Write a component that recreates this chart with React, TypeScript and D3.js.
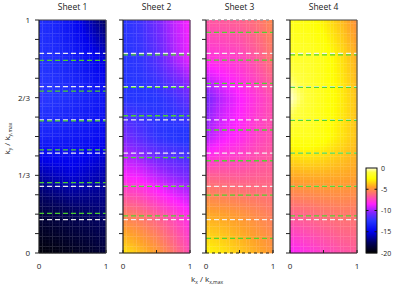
import React from "react";
import * as d3 from "d3";

// ---------- data ----------
const sheetNames = ["Sheet 1", "Sheet 2", "Sheet 3", "Sheet 4"];
const xNodes = [0, 0.25, 0.5, 0.75, 1];
const yNodes = [0, 1 / 6, 1 / 3, 1 / 2, 2 / 3, 5 / 6, 1];

// rows: bottom (ky=0) to top (ky=1); columns: kx = 0 .. 1
const sheet1 = [
  [-19.8, -19.6, -19.3, -19.0, -18.5],
  [-18.5, -18.2, -17.8, -17.5, -17.2],
  [-16.3, -15.8, -15.4, -15.8, -16.2],
  [-13.3, -13.6, -13.9, -14.2, -14.7],
  [-12.2, -12.6, -13.0, -13.5, -14.1],
  [-12.6, -13.0, -13.6, -14.5, -15.5],
  [-12.8, -13.4, -14.4, -16.0, -17.6],
];
const sheet2 = [
  [-3.0, -3.8, -4.6, -5.8, -7.2],
  [-5.5, -5.9, -6.6, -7.4, -8.3],
  [-8.5, -8.8, -9.6, -10.3, -10.8],
  [-10.6, -11.5, -12.3, -12.6, -12.8],
  [-12.5, -12.6, -12.5, -12.0, -11.0],
  [-12.5, -12.3, -11.5, -10.0, -8.8],
  [-12.5, -12.0, -10.8, -9.5, -8.5],
];
const sheet3 = [
  [-2.6, -3.0, -3.6, -4.2, -4.8],
  [-4.3, -4.5, -4.8, -5.2, -5.6],
  [-6.5, -6.6, -6.7, -6.6, -6.5],
  [-9.8, -8.8, -8.3, -7.5, -7.0],
  [-10.8, -9.5, -8.6, -7.8, -7.0],
  [-8.0, -7.8, -7.5, -6.8, -5.8],
  [-6.8, -6.7, -6.5, -6.0, -5.2],
];
const sheet4 = [
  [-8.5, -8.0, -7.5, -7.0, -6.7],
  [-6.5, -6.3, -6.0, -5.8, -5.8],
  [-4.3, -4.2, -4.2, -4.3, -4.5],
  [-2.0, -1.8, -2.2, -3.0, -3.8],
  [0.0, -1.2, -2.0, -2.8, -3.8],
  [-1.5, -1.5, -2.0, -3.0, -4.2],
  [-2.0, -2.2, -2.8, -3.8, -5.0],
];
const sheetValues = [sheet1, sheet2, sheet3, sheet4];

// reference lines (ky / ky,max)
const whiteLines = [1 / 7, 2 / 7, 3 / 7, 4 / 7, 5 / 7, 6 / 7];
const greenLines1 = [0.17, 0.302, 0.443, 0.567, 0.695, 0.827];
const greenLines2 = [0.159, 0.286, 0.409, 0.589, 0.711, 0.85];
const greenLines3 = [0.063, 0.248, 0.396, 0.528, 0.728, 0.828, 0.947];
const greenLines4 = [0.159, 0.286, 0.429, 0.569, 0.711, 0.85];
const greenLines = [greenLines1, greenLines2, greenLines3, greenLines4];

const yTickValues = d3.range(0, 13).map((i) => i / 12);
const yLabelValues = [0, 1 / 3, 2 / 3, 1];
const yLabelTexts = ["0", "1/3", "2/3", "1"];
const xTickValues = [0, 0.5, 1];
const xLabelValues = [0, 1];
const cbTicks = [0, -5, -10, -15, -20];

const colorDomain = [-20, -17.5, -15, -12.5, -10.5, -8.5, -6.5, -4.5, -2.5, -1, 0];
const colorRange = [
  "#000000", "#000060", "#0000ee", "#2535ff", "#8025ff", "#ff20ff",
  "#ff6090", "#ffa028", "#ffff00", "#ffff40", "#ffffd8",
];

// ---------- layout ----------
const W = 394, H = 289;
const panelX = [39, 123, 206, 290];
const panelW = 67;
const top = 20, bottom = 253;
const NC = 20, NR = 70;
const font = "'Open Sans', 'DejaVu Sans', sans-serif";

const color = d3.scaleLinear<string>().domain(colorDomain).range(colorRange).clamp(true);
const y = d3.scaleLinear().domain([0, 1]).range([bottom, top]);

function interp(grid: number[][], fx: number, fy: number) {
  const xi = d3.bisectRight(xNodes, fx) - 1;
  const yi = d3.bisectRight(yNodes, fy) - 1;
  const i0 = Math.max(0, Math.min(xNodes.length - 2, xi));
  const j0 = Math.max(0, Math.min(yNodes.length - 2, yi));
  const tx = (fx - xNodes[i0]) / (xNodes[i0 + 1] - xNodes[i0]);
  const ty = (fy - yNodes[j0]) / (yNodes[j0 + 1] - yNodes[j0]);
  const a = grid[j0][i0], b = grid[j0][i0 + 1];
  const c = grid[j0 + 1][i0], d = grid[j0 + 1][i0 + 1];
  return (a * (1 - tx) + b * tx) * (1 - ty) + (c * (1 - tx) + d * tx) * ty;
}

function Panel({ idx }: { idx: number }) {
  const x0 = panelX[idx];
  const x = d3.scaleLinear().domain([0, 1]).range([x0, x0 + panelW]);
  const grid = sheetValues[idx];
  const cells: React.ReactNode[] = [];
  for (let i = 0; i < NC; i++) {
    for (let j = 0; j < NR; j++) {
      const fx = (i + 0.5) / NC, fy = (j + 0.5) / NR;
      const x1 = x(i / NC), x2 = x((i + 1) / NC);
      const y1 = y((j + 1) / NR), y2 = y(j / NR);
      cells.push(
        <rect key={`${i}-${j}`} x={x1} y={y1} width={x2 - x1 + 0.3} height={y2 - y1 + 0.3}
          fill={color(interp(grid, fx, fy))} />
      );
    }
  }
  const gridLines: React.ReactNode[] = [];
  for (let i = 1; i < NC; i++) {
    gridLines.push(<line key={`v${i}`} x1={x(i / NC)} x2={x(i / NC)} y1={top} y2={bottom}
      stroke="#ffffff" strokeOpacity={0.06} strokeWidth={0.6} />);
  }
  for (let j = 1; j < NR; j++) {
    gridLines.push(<line key={`h${j}`} x1={x0} x2={x0 + panelW} y1={y(j / NR)} y2={y(j / NR)}
      stroke="#ffffff" strokeOpacity={0.05} strokeWidth={0.6} />);
  }
  const cx = x0 + panelW / 2;
  return (
    <g>
      {cells}
      {gridLines}
      {whiteLines.map((v, k) => (
        <line key={`w${k}`} x1={x0} x2={x0 + panelW} y1={y(v)} y2={y(v)}
          stroke="#f4f4f4" strokeOpacity={0.95} strokeWidth={1.3} strokeDasharray="5,3" />
      ))}
      {greenLines[idx].map((v, k) => (
        <line key={`g${k}`} x1={x0} x2={x0 + panelW} y1={y(v)} y2={y(v)}
          stroke="#4cd62a" strokeOpacity={0.95} strokeWidth={1.3} strokeDasharray="5,3" />
      ))}
      {/* frame */}
      {idx === 2 ? (
        <g>
          <line x1={x0} x2={x0 + panelW} y1={top} y2={top} stroke="#999" strokeWidth={1.4} strokeDasharray="3,3" />
          <line x1={x0} x2={x0 + panelW} y1={bottom} y2={bottom} stroke="#222" strokeWidth={1.2} strokeDasharray="3,3" />
          <line x1={x0 + panelW} x2={x0 + panelW} y1={top} y2={bottom} stroke="#555" strokeWidth={1.2} />
        </g>
      ) : (
        <g>
          <line x1={x0} x2={x0 + panelW} y1={top} y2={top} stroke="#444" strokeWidth={1.2} />
          <line x1={x0} x2={x0 + panelW} y1={bottom} y2={bottom} stroke="#222" strokeWidth={1.2} />
          <line x1={x0 + panelW} x2={x0 + panelW} y1={top} y2={bottom} stroke="#555" strokeWidth={1.2} />
        </g>
      )}
      <line x1={x0} x2={x0} y1={top} y2={bottom} stroke="#222" strokeWidth={1.2} />
      {yTickValues.map((v, k) => (
        <line key={`yt${k}`} x1={x0 - 4} x2={x0} y1={y(v)} y2={y(v)} stroke="#222" strokeWidth={1} />
      ))}
      {xTickValues.map((v, k) => (
        <line key={`xt${k}`} x1={x(v)} x2={x(v)} y1={bottom} y2={bottom - 3} stroke="#222" strokeWidth={1} />
      ))}
      {xLabelValues.map((v, k) => (
        <text key={`xl${k}`} x={x(v)} y={269} textAnchor="middle" fontSize={8} fontFamily={font} fill="#222">
          {String(v)}
        </text>
      ))}
      <text x={cx} y={10} textAnchor="middle" fontSize={8.5} fontFamily={font} fill="#222">
        {sheetNames[idx]}
      </text>
    </g>
  );
}

export default function App() {
  const cbX = 366, cbW = 11, cbTop = 168, cbBottom = 253;
  const cbY = d3.scaleLinear().domain([0, -20]).range([cbTop, cbBottom]);
  const cbSteps = d3.range(0, 85);
  return (
    <svg width={W} height={H} style={{ position: "absolute", left: 0, top: 0, background: "#fff" }}>
      {sheetNames.map((_, i) => <Panel key={i} idx={i} />)}
      {yLabelValues.map((v, k) => (
        <text key={k} x={30} y={y(v) + 3} textAnchor="end" fontSize={8} fontFamily={font} fill="#222">
          {yLabelTexts[k]}
        </text>
      ))}
      {/* y axis title */}
      <text transform={`translate(10,${(top + bottom) / 2 + 2}) rotate(-90)`} textAnchor="middle"
        fontSize={8} fontFamily={font} fill="#222">
        k<tspan fontSize={5} dy={2}>y</tspan><tspan dy={-2}> / k</tspan><tspan fontSize={5} dy={2}>y,max</tspan>
      </text>
      {/* x axis title */}
      <text x={191} y={282} fontSize={8} fontFamily={font} fill="#222">
        k<tspan fontSize={5} dy={2}>x</tspan><tspan dy={-2}> / k</tspan><tspan fontSize={5} dy={2}>x,max</tspan>
      </text>
      {/* colorbar */}
      {cbSteps.map((s) => {
        const v0 = -(s / cbSteps.length) * 20;
        const v1 = -((s + 1) / cbSteps.length) * 20;
        return (
          <rect key={s} x={cbX} y={cbY(v0)} width={cbW} height={cbY(v1) - cbY(v0) + 0.3}
            fill={color((v0 + v1) / 2)} />
        );
      })}
      <rect x={cbX} y={cbTop} width={cbW} height={cbBottom - cbTop} fill="none" stroke="#111" strokeWidth={1} />
      {cbTicks.map((t, k) => (
        <g key={k}>
          {t !== 0 && t !== -20 && (
            <g>
              <line x1={cbX} x2={cbX + 2.5} y1={cbY(t)} y2={cbY(t)} stroke="#111" strokeWidth={1} />
              <line x1={cbX + cbW - 2.5} x2={cbX + cbW} y1={cbY(t)} y2={cbY(t)} stroke="#111" strokeWidth={1} />
            </g>
          )}
          <text x={381} y={cbY(t) + 2.5} fontSize={7} fontFamily={font} fill="#222">
            {String(t)}
          </text>
        </g>
      ))}
    </svg>
  );
}
